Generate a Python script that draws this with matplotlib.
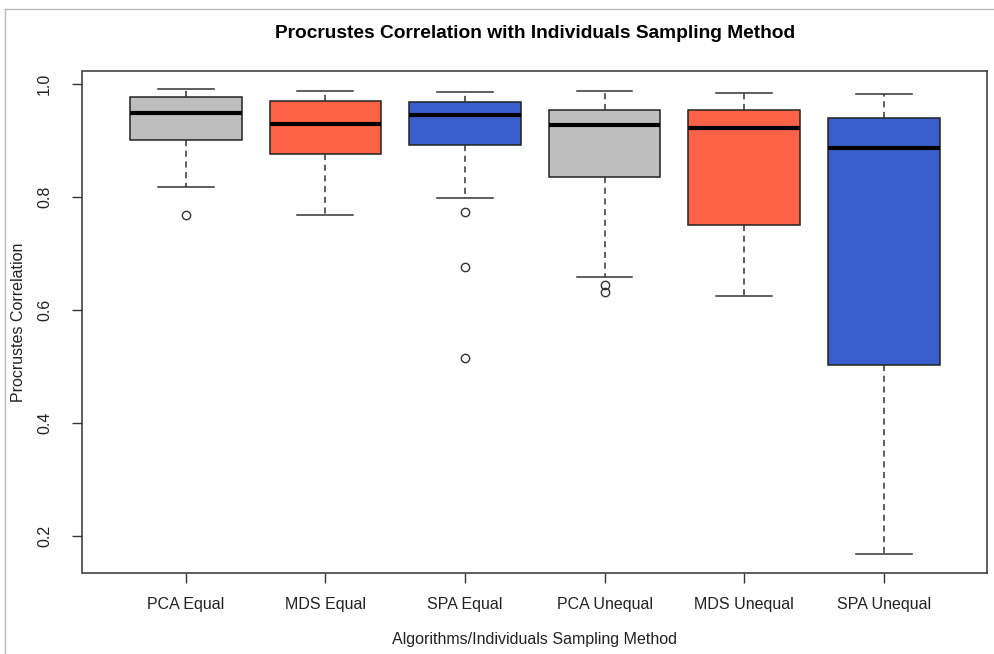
import matplotlib.pyplot as plt
from matplotlib.lines import Line2D

# values
labels = ["PCA Equal", "MDS Equal", "SPA Equal", "PCA Unequal", "MDS Unequal", "SPA Unequal"]
whis_hi = [0.990, 0.9865, 0.985, 0.9865, 0.983, 0.982]
q3 = [0.977, 0.969, 0.968, 0.953, 0.953, 0.939]
medians = [0.948, 0.929, 0.945, 0.927, 0.921, 0.886]
q1 = [0.900, 0.876, 0.891, 0.834, 0.749, 0.503]
whis_lo = [0.818, 0.768, 0.798, 0.657, 0.624, 0.167]
outliers = [[0.768], [], [0.772, 0.675, 0.515], [0.644, 0.631], [], []]
colors = ["#BEBEBE", "#FF6347", "#3A5FCD", "#BEBEBE", "#FF6347", "#3A5FCD"]

plt.rcParams['font.family'] = ['Liberation Sans', 'DejaVu Sans']

W, H = 995, 654
fig = plt.figure(figsize=(W / 100, H / 100), dpi=100)
ax = fig.add_axes([82.5 / W, 1 - 573 / H, (987 - 82.5) / W, (573 - 70.7) / H])

stats = []
for i, lab in enumerate(labels):
    stats.append(dict(label=lab, med=medians[i], q1=q1[i], q3=q3[i],
                      whislo=whis_lo[i], whishi=whis_hi[i], fliers=outliers[i]))

edge = "#222222"
bp = ax.bxp(stats, positions=range(1, len(labels) + 1), widths=0.8,
            patch_artist=True, showfliers=True,
            boxprops=dict(edgecolor=edge, linewidth=1.1),
            medianprops=dict(color="black", linewidth=3, solid_capstyle="butt"),
            whiskerprops=dict(color="#333333", linewidth=1.1, linestyle=(0, (4, 3))),
            capprops=dict(color="#333333", linewidth=1.1),
            flierprops=dict(marker="o", markersize=6, markerfacecolor="none",
                            markeredgecolor="#333333", markeredgewidth=1.0))
for patch, c in zip(bp["boxes"], colors):
    patch.set_facecolor(c)
for cap in bp["caps"]:
    x0, x1 = cap.get_xdata()
    mid = (x0 + x1) / 2
    cap.set_xdata([mid - 0.2, mid + 0.2])

# R style axis ranges (4% padding)
lo = min(whis_lo + [v for o in outliers for v in o])
hi = max(whis_hi)
pad = 0.04 * (hi - lo)
ax.set_ylim(lo - pad, hi + pad)
n = len(labels)
ax.set_xlim(0.5 - 0.04 * n, n + 0.5 + 0.04 * n)

ax.set_yticks([0.2, 0.4, 0.6, 0.8, 1.0])
ax.set_yticklabels(["0.2", "0.4", "0.6", "0.8", "1.0"], rotation=90, va="center")
ax.tick_params(axis="both", labelsize=11.5, colors="#333333", labelcolor="#222222",
               length=7, width=1)
ax.tick_params(axis="x", pad=10)
ax.tick_params(axis="y", pad=15)
for s in ax.spines.values():
    s.set_color("#333333")
    s.set_linewidth(1.1)

ax.set_xlabel("Algorithms/Individuals Sampling Method", fontsize=11.5, color="#222222", labelpad=15)
ax.set_ylabel("Procrustes Correlation", fontsize=11.5, color="#222222", labelpad=8)
fig.text(535 / W, 1 - 33 / H, "Procrustes Correlation with Individuals Sampling Method",
         ha="center", va="center", fontsize=13.8, fontweight="bold", color="black")

# screenshot border (top and left)
fig.add_artist(Line2D([5 / W, 1], [1 - 9 / H, 1 - 9 / H], transform=fig.transFigure,
                      color="#BBBBBB", linewidth=1))
fig.add_artist(Line2D([5 / W, 5 / W], [0, 1 - 9 / H], transform=fig.transFigure,
                      color="#BBBBBB", linewidth=1))

fig.savefig("out.png", dpi=100)
